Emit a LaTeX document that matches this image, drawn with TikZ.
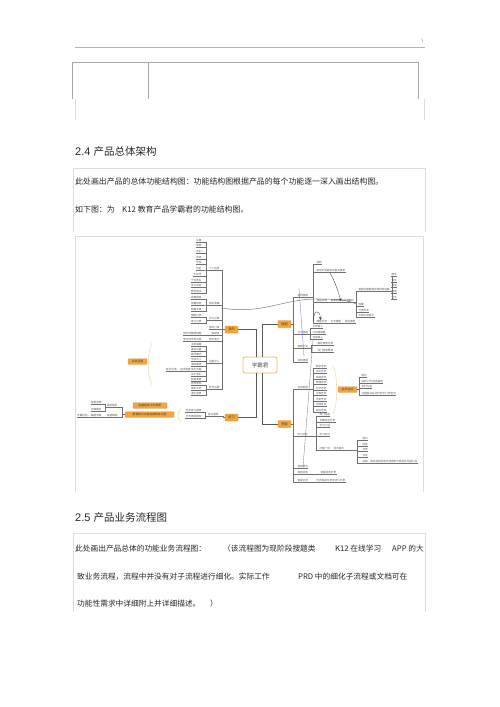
\documentclass[tikz,border=0pt]{standalone}
\usepackage{fontspec}
\setmainfont{Liberation Sans}
\newfontfamily\cjk{Noto Sans CJK SC}
\usetikzlibrary{positioning}
\definecolor{mmorange}{HTML}{F2A53A}
\definecolor{mmline}{HTML}{707070}
\definecolor{framegray}{HTML}{DDDDDD}

\begin{document}
\begin{tikzpicture}[x=1pt,y=-1pt,
  conn/.style={draw=mmline,line width=.3pt},
  leaf/.style={font=\cjk\fontsize{2.6}{3}\selectfont,inner sep=.3pt,text=black!65,
    append after command={(\tikzlastnode.south west) edge[conn] (\tikzlastnode.south east)}},
  hub/.style={fill=mmorange,draw=mmorange!85!black,line width=.2pt,rounded corners=.6pt,
    font=\cjk\fontsize{2.8}{3}\selectfont,inner sep=.6pt,minimum height=5.5pt,text=black!75},
  mainhub/.style={hub,minimum width=13pt,minimum height=7pt,font=\cjk\fontsize{3.2}{3.5}\selectfont},
  trunk/.style={draw=black!65,line width=1pt},
  brace/.style={draw=mmorange!55,line width=.4pt},
  dk/.style={draw=black!75,line width=.35pt,->,>=stealth},
  frame/.style={draw=framegray,line width=.5pt},
  body/.style={anchor=base west,inner sep=0,text=black!85,font=\cjk\fontsize{7.9}{9}\selectfont},
  bodyb/.style={body,font=\cjk\fontsize{7.7}{9}\selectfont}]
\useasboundingbox (0,0) rectangle (500,707);

% page head and table
\draw[gray!60,line width=.6pt] (75,47) -- (425,47);
\draw[gray!70,line width=.5pt] (421.5,38) -- (423,42);
\draw[gray!70,line width=.7pt] (72,99) -- (72,62) -- (418,62) -- (418,99);
\draw[gray!70,line width=.7pt] (148,62) -- (148,99);
\draw[frame] (75,99) -- (75,120) (424,99) -- (424,120);

% 2.4
\node[anchor=base west,inner sep=0,font=\fontsize{11}{13}\selectfont,text=black!85] (h24) at (75,155)
  {2.4 {\cjk\fontsize{10.5}{12}\selectfont 产品总体架构}};
\draw[frame] (73,232) -- (73,168) -- (425,168) -- (425,232);
\node[body] (t1) at (75,184) {此处画出产品的总体功能结构图：功能结构图根据产品的每个功能逐一深入画出结构图。};
\node[body] (t2) at (75,212) {如下图：为};
\node[body] (t3) at (122,212) {K12 教育产品学霸君的功能结构图。};

% mind map frame
\draw[frame] (75,492) -- (75,236) -- (423,236) -- (423,492);

% centre and main branches
\node[draw=mmorange!80,line width=.8pt,rounded corners=2pt,fill=white,minimum width=34pt,
  minimum height=16pt,font=\cjk\fontsize{5.5}{6}\selectfont,text=black!70] (xbj) at (260,365) {学霸君};
\node[mainhub] (my) at (231.5,329.5) {我的};
\node[mainhub] (st) at (284.5,324) {搜题};
\node[mainhub] (lx) at (231.5,417.5) {练习};
\node[mainhub] (dy) at (284.5,424) {答疑};
\draw[trunk] ([xshift=-4pt]xbj.north) |- (my.east);
\draw[trunk] ([xshift=2pt]xbj.north) |- (st.west);
\draw[trunk] ([xshift=-4pt]xbj.south) |- (lx.east);
\draw[trunk] ([xshift=2pt]xbj.south) |- (dy.west);

%% 我的
\node[leaf,anchor=south east] (ma) at (220,270) {个人信息};
\foreach \y/\lbl [count=\i] in {242/头像,247/昵称,253/性别,259/年级,264/学校,270/地区,276/手机号,282/个性签名,287/学习目标,293/教材版本}{
  \node[leaf,anchor=south east] (ma-\i) at (202,\y) {\lbl};
  \draw[conn] (ma.south west) -- ++(-2.5,0) |- (ma-\i.south east);
}
\node[leaf,anchor=south east] (mb) at (220,305) {我的收藏};
\foreach \y/\lbl [count=\i] in {299/收藏题目,305/收藏视频,311/收藏文章}{
  \node[leaf,anchor=south east] (mb-\i) at (202,\y) {\lbl};
  \draw[conn] (mb.south west) -- ++(-2.5,0) |- (mb-\i.south east);
}
\node[leaf,anchor=south east] (mc) at (220,320) {学习记录};
\foreach \y/\lbl [count=\i] in {317/搜题记录,323/练习记录}{
  \node[leaf,anchor=south east] (mc-\i) at (202,\y) {\lbl};
  \draw[conn] (mc.south west) -- ++(-2.5,0) |- (mc-\i.south east);
}
\node[leaf,anchor=south east] (md) at (220,329) {我的订单};
\node[leaf,anchor=south east] (me) at (220,335) {错题本};
\node[leaf,anchor=south east] (me-1) at (202,335) {按学科整理错题};
\draw[conn] (me.south west) -- (me-1.south east);
\node[leaf,anchor=south east] (mf) at (220,341) {我的笔记};
\node[leaf,anchor=south east] (mf-1) at (202,341) {笔记同步到云端};
\draw[conn] (mf.south west) -- (mf-1.south east);
\node[leaf,anchor=south east] (mg) at (220,363) {设置中心};
\foreach \y/\lbl [count=\i] in {346/消息提醒,351/推送设置,356/夜间模式,361/字体大小,366/清除缓存,371/意见反馈 — 在线客服 常见问题,376/关于我们,381/检查更新}{
  \node[leaf,anchor=south east] (mg-\i) at (202,\y) {\lbl};
  \draw[conn] (mg.south west) -- ++(-2.5,0) |- (mg-\i.south east);
}
\node[leaf,anchor=south east] (mh) at (220,389) {账号设置};
\foreach \y/\lbl [count=\i] in {385/修改密码,390/绑定手机,395/退出登录}{
  \node[leaf,anchor=south east] (mh-\i) at (202,\y) {\lbl};
  \draw[conn] (mh.south west) -- ++(-2.5,0) |- (mh-\i.south east);
}
\foreach \n in {ma,mb,mc,md,me,mf,mg,mh}
  \draw[conn] (my.west) -- ++(-3,0) |- (\n.south east);
\node[hub,minimum width=19pt] (mx) at (137.5,361.5) {系统设置};
\draw[brace] (152,343) .. controls (147,352) and (147,376) .. (152,385);
% link line across the map
\coordinate (cvA) at (222,308);
\coordinate (cvB) at (356,304);
\fill[mmline] (cvA) circle (.7);
\draw[conn,line width=.45pt] (cvA) .. controls (262,315) and (285,298) .. (320,299)
  .. controls (340,299) and (350,301) .. (cvB);

%% 练习
\node[leaf,anchor=south east] (la) at (219,416) {练习题库};
\foreach \y/\lbl [count=\i] in {412/同步练习题库,418/历年真题题库}{
  \node[leaf,anchor=south east] (la-\i) at (202,\y) {\lbl};
  \draw[conn] (la.south west) -- ++(-2,0) |- (la-\i.south east);
}
\draw[conn] (lx.west) -- ++(-2,0) |- (la.south east);
\draw[brace] (181,409) .. controls (177,412) and (177,419) .. (181,422);
\node[hub,minimum width=34pt] (lt) at (150,405.5) {海量题库 实时更新};
\node[hub,minimum width=49pt] (lb) at (149.5,414.5) {根据知识点智能推荐练习题};
\node[leaf,anchor=south east] (lc) at (118,407) {题目解析};
\foreach \y/\lbl [count=\i] in {404/查看答案,411/详细解析}{
  \node[leaf,anchor=south east] (lc-\i) at (102,\y) {\lbl};
  \draw[conn] (lc.south west) -- ++(-1.5,0) |- (lc-\i.south east);
}
\node[leaf,anchor=south east] (ld) at (118,417) {答疑解惑};
\node[leaf,anchor=south east] (ld-1) at (102,417) {学霸经验 — 解题思路};
\draw[conn] (ld.south west) -- (ld-1.south east);
\foreach \n in {lc,ld}
  \draw[conn] (lb.west) -- ++(-3,0) |- (\n.south east);

%% 搜题
\node[leaf,anchor=south west] (sa) at (297,297) {拍照搜题};
\foreach \y/\lbl [count=\i] in {264/拍照,272/自动识别题目内容并搜索,302/搜题结果 · 查看答案与详细解析,323/搜题记录 · 文字搜题 · 语音搜题}{
  \node[leaf,anchor=south west] (sa-\i) at (316,\y) {\lbl};
  \draw[conn] (sa.south east) -- ++(5,0) |- (sa-\i.south west);
}
\foreach \y/\lbl [count=\i] in {291/查看完整解题步骤视频讲解,306/收藏,312/分享好友,317/纠错反馈提交}{
  \node[leaf,anchor=south west] (sd-\i) at (358,\y) {\lbl};
  \draw[conn] (sa-3.south east) -- ++(1.5,0) |- (sd-\i.south west);
}
\foreach \y/\lbl [count=\i] in {276/数学,282/语文,287/英语,293/物理,299/化学}{
  \node[leaf,anchor=south west] (se-\i) at (391,\y) {\lbl};
  \draw[conn] (sd-1.south east) -- ++(1.5,0) |- (se-\i.south west);
}
\node[leaf,anchor=south west] (sb) at (297,334) {文字搜题};
\foreach \y/\lbl [count=\i] in {328/手动输入,334/公式编辑器,339/语音输入}{
  \node[leaf,anchor=south west] (sb-\i) at (312,\y) {\lbl};
  \draw[conn] (sb.south east) -- ++(1.5,0) |- (sb-\i.south west);
}
\node[leaf,anchor=south west] (sc) at (297,348) {搜索历史};
\foreach \y/\lbl [count=\i] in {345/最近搜索记录,352/热门搜索推荐}{
  \node[leaf,anchor=south west] (sc-\i) at (317,\y) {\lbl};
  \draw[conn] (sc.south east) -- ++(3,0) |- (sc-\i.south west);
}
\node[leaf,anchor=south west] (sf) at (297,362) {扫码搜题};
\foreach \n in {sa,sb,sc,sf}
  \draw[conn] (st.east) -- ++(2,0) |- (\n.south west);
% annotation arrows
\coordinate (arA) at (330,273);
\coordinate (arB) at (341,301);
\draw[dk] (arA) .. controls (336,283) and (338,292) .. (arB);
\coordinate (hkA) at (313.5,322);
\coordinate (hkB) at (320.5,320);
\draw[dk] (hkA) .. controls (313,309) and (320,309) .. (hkB);
\coordinate (blA) at (299,288);
\coordinate (blB) at (304,356);
\draw[blue!60,line width=.3pt] (blA) -- (blB);
\coordinate (glA) at (313,340);
\coordinate (glB) at (303,467);
\draw[conn] (glA) -- (glB);

%% 答疑
\node[leaf,anchor=south west] (qa) at (297,389) {在线答疑};
\foreach \y/\lbl [count=\i] in {368/数学老师,373.5/语文老师,379/英语老师,384.5/物理老师,390/化学老师,395.5/生物老师,401/历史老师,406.5/地理老师,412/政治老师}{
  \node[leaf,anchor=south west] (qa-\i) at (315.5,\y) {\lbl};
  \draw[conn] (qa.south east) -- ++(5,0) |- (qa-\i.south west);
}
\draw[brace] (333,366) .. controls (338,376) and (338,404) .. (333,414);
\node[hub,minimum width=19pt] (qm) at (347.5,389.5) {名师在线};
\foreach \y/\lbl [count=\i] in {377/提问,383/拍照上传 语音描述,388/实时沟通,395/问题解决后评价老师 打赏老师}{
  \node[leaf,anchor=south west] (qm-\i) at (361,\y) {\lbl};
  \draw[conn] (qm.east) -- ++(2.5,0) |- (qm-\i.south west);
}
\node[leaf,anchor=south west] (qb) at (297,436) {学习社区};
\foreach \y/\lbl [count=\i] in {416/热门话题,422/学霸经验分享,427/学习小组,436/学习资讯,450/问答广场 · 发布提问}{
  \node[leaf,anchor=south west] (qb-\i) at (319,\y) {\lbl};
  \draw[conn] (qb.south east) -- ++(8,0) |- (qb-\i.south west);
}
\foreach \y/\lbl [count=\i] in {440/提问,446/回答,451/点赞,457/评论,463/采纳：被采纳的回答可获得积分奖励并兑换礼品}{
  \node[leaf,anchor=south west] (qc-\i) at (362,\y) {\lbl};
  \draw[conn] (qb-5.south east) -- ++(13,0) |- (qc-\i.south west);
}
\node[leaf,anchor=south west] (qd) at (297,468) {我的提问};
\node[leaf,anchor=south west] (qe) at (297,474) {我的回答};
\node[leaf,anchor=south west] (qe-1) at (320,474) {查看回答记录};
\draw[conn] (qe.south east) -- (qe-1.south west);
\node[leaf,anchor=south west] (qf) at (297,482) {答疑记录};
\node[leaf,anchor=south west] (qf-1) at (316,482) {历史答疑与老师评价记录};
\draw[conn] (qf.south east) -- (qf-1.south west);
\foreach \n in {qa,qb,qd,qe,qf}
  \draw[conn] (dy.east) -- ++(2,0) |- (\n.south west);

% 2.5
\node[anchor=base west,inner sep=0,font=\fontsize{11}{13}\selectfont,text=black!85] (h25) at (75,521)
  {2.5 {\cjk\fontsize{10.5}{12}\selectfont 产品业务流程图}};
\draw[frame] (73,612) -- (73,533) -- (425,533) -- (425,612);
\node[bodyb] (u1) at (75,551) {此处画出产品总体的功能业务流程图：};
\node[bodyb] (u2) at (223,551) {（该流程图为现阶段搜题类};
\node[bodyb] (u3) at (335,551) {K12 在线学习};
\node[bodyb] (u4) at (392,551) {APP 的大};
\node[bodyb] (u5) at (77,579) {致业务流程，流程中并没有对子流程进行细化。实际工作};
\node[bodyb] (u6) at (298,579) {PRD 中的细化子流程或文档可在};
\node[bodyb] (u7) at (77,606) {功能性需求中详细附上并详细描述。};
\node[bodyb] (u8) at (210,606) {）};
\end{tikzpicture}
\end{document}
